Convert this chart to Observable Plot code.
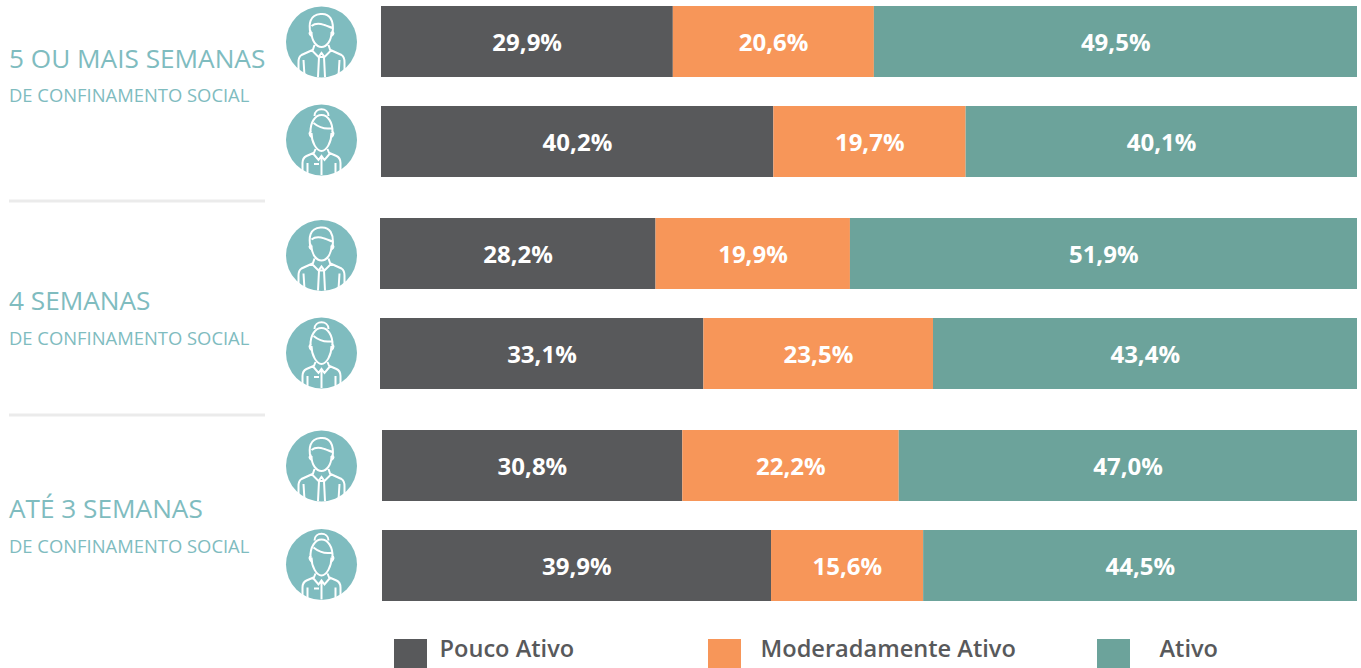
<!DOCTYPE html>
<html lang="pt">
<head>
<meta charset="utf-8">
<script src="https://cdn.jsdelivr.net/npm/d3@7"></script>
<script src="https://cdn.jsdelivr.net/npm/@observablehq/plot@0.6"></script>
<style>
  html, body { margin: 0; padding: 0; background: #fff; overflow: hidden; }
  #chart { width: 1361px; height: 668px; position: relative; font-family: "Open Sans", sans-serif; }
  #chart svg { display: block; }
  #legend { position: relative; height: 43px; color: #58595b; font-size: 23.6px; font-weight: 600; }
  #legend span { position: absolute; top: 14px; display: block; white-space: nowrap; }
  #legend .swatch { width: 33px; height: 29px; top: 14px; }
  #legend .name { top: 7px; line-height: 33px; }
</style>
</head>
<body>
<div id="chart"></div>
<script>
// ---- data ----
const groups = ["5 OU MAIS SEMANAS", "4 SEMANAS", "ATÉ 3 SEMANAS"];
const subtitle = "DE CONFINAMENTO SOCIAL";
const genders = ["Homens", "Mulheres"];
const categories = ["Pouco Ativo", "Moderadamente Ativo", "Ativo"];
const colors = ["#58595b", "#f79659", "#6ca39b"];
// one value per row: group 1 men, group 1 women, group 2 men, ...
const poucoAtivo = [29.9, 40.2, 28.2, 33.1, 30.8, 39.9];
const moderadamenteAtivo = [20.6, 19.7, 19.9, 23.5, 22.2, 15.6];
const ativo = [49.5, 40.1, 51.9, 43.4, 47.0, 44.5];

// ---- layout constants ----
const H = 625, marginT = 6, rowBlock = 171, groupStep = 212, rowStep = 100;
const X0 = 380, X1 = 1357;
const pct = px => (px - X0) / (X1 - X0) * 100;       // page pixel -> x-scale unit
const groupLead = [pct(381), pct(380), pct(382)];    // each group's bars start slightly differently
const iconCol = -59, labelCol = -371.5;
const teal = "#7fbcbf";
const iconNudge = [0, -2, 1.5, -1, 0, -1.5];
const titleDy = [53, 83, 79], subDy = [90, 121, 117];
const ruleDy = [59, 61];

// ---- table built from the arrays ----
const rows = [];
const segments = [];
groups.forEach((group, g) => genders.forEach((gender, s) => {
  const i = g * 2 + s;
  rows.push({group, gender, i});
  const lead = groupLead[g];
  const scale = (100 - lead) / 100;
  let cum = 0;
  [poucoAtivo[i], moderadamenteAtivo[i], ativo[i]].forEach((value, c) => {
    const start = lead + cum * scale;
    const end = lead + (cum + value) * scale;
    segments.push({group, gender, category: categories[c], value, start, end, mid: (start + end) / 2});
    cum += value;
  });
}));
const fmt = v => v.toFixed(1).replace(".", ",") + "%";

// ---- icon glyphs (custom dot symbols, centred on the dot) ----
function curveList(ctx, list) {
  for (const c of list) {
    if (c[0] === "M") ctx.moveTo(c[1], c[2]);
    else if (c[0] === "L") ctx.lineTo(c[1], c[2]);
    else if (c[0] === "Q") ctx.quadraticCurveTo(c[1], c[2], c[3], c[4]);
    else ctx.bezierCurveTo(c[1], c[2], c[3], c[4], c[5], c[6]);
  }
}
const man = {draw(ctx) {
  curveList(ctx, [
    ["M",-11,-8],["C",-13,-18,-12,-27,-1,-28],["C",8,-29,13,-22,11,-8],
    ["M",-10,-16],["C",-5,-20,0,-18,3,-17],["C",6,-16,8,-15,11,-14],
    ["M",-10,-10],["C",-10,-1,-5,5,0,5],["C",5,5,10,-1,10,-10],
    ["M",-10,-11],["Q",-14,-9,-10,-6],["M",10,-11],["Q",14,-9,10,-6],
    ["M",-7,3],["L",-9,9],["L",-3,15],["L",0,11],["L",3,15],["L",9,9],["L",7,3],
    ["M",-9,8],["L",-20,13],["Q",-23,15,-23,20],["L",-23,30],
    ["M",9,8],["L",20,13],["Q",23,15,23,20],["L",23,30],
    ["M",-18,18],["L",-17,34],["M",18,18],["L",17,34],
    ["M",-2.5,15],["L",-3.5,35],["M",2.5,15],["L",3.5,35],["M",-3,15],["L",3,15]
  ]);
}};
const woman = {draw(ctx) {
  curveList(ctx, [
    ["M",-7,-24],["C",-7,-33,7,-33,7,-24],
    ["M",-11,-7],["C",-11.5,-18,-6,-25,0,-25],["C",6,-25,11.5,-18,11,-7],
    ["M",-8,-17],["C",-3,-13,3,-10,11,-12],
    ["M",-10,-7],["C",-10,2,-5,11,0,11],["C",5,11,10,2,10,-7],
    ["M",-10,-9],["Q",-14,-7,-10,-3],["M",10,-9],["Q",14,-7,10,-3],
    ["M",-6,9],["L",-8,14],["L",-3,20],["L",0,16],["L",3,20],["L",8,14],["L",6,9],
    ["M",-8,13],["L",-15,16],["Q",-19,18,-19,23],["L",-19,32],
    ["M",8,13],["L",15,16],["Q",19,18,19,23],["L",19,32],
    ["M",-14,23],["L",-14,34],["M",14,23],["L",14,34],
    ["M",0,17],["L",0,35],["M",-7.5,24],["L",-2.5,24]
  ]);
}};
const glyph = {Homens: man, Mulheres: woman};

// ---- chart ----
const gap = groupStep - rowBlock;
const chart = Plot.plot({
  width: 1361,
  height: H,
  marginLeft: X0,
  marginRight: 1361 - X1,
  marginTop: marginT,
  marginBottom: H - (marginT + 3 * rowBlock + 2 * gap),
  style: {fontFamily: '"Open Sans", sans-serif', background: "#fff", overflow: "visible"},
  x: {domain: [0, 100], axis: null},
  y: {domain: genders, axis: null, paddingInner: 1 - 71 / rowStep, paddingOuter: 0, round: false},
  fy: {domain: groups, axis: null, paddingInner: gap / groupStep, paddingOuter: 0, round: false},
  color: {domain: categories, range: colors},
  marks: [
    Plot.barX(segments, {x1: "start", x2: "end", y: "gender", fy: "group", fill: "category", inset: 0}),
    Plot.text(segments, {x: "mid", y: "gender", fy: "group", text: d => fmt(d.value), fill: "#fff",
      fontSize: 24, fontWeight: 700, dy: 1, dx: -0.25}),
    ...rows.flatMap(r => [
      Plot.dot([r], {y: "gender", fy: "group", frameAnchor: "left", dx: iconCol, dy: iconNudge[r.i],
        r: 35.5, fill: teal, stroke: null}),
      Plot.dot([r], {y: "gender", fy: "group", frameAnchor: "left", dx: iconCol, dy: iconNudge[r.i],
        r: 35.5, symbol: glyph[r.gender], fill: "none", stroke: "#fff", strokeWidth: 2})
    ]),
    ...groups.flatMap((g, i) => [
      Plot.text([g], {fy: d => d, text: d => d, frameAnchor: "top-left", dx: labelCol, dy: titleDy[i],
        fontSize: 26.2, fontWeight: 400, fill: teal, lineAnchor: "middle"}),
      Plot.text([g], {fy: d => d, text: () => subtitle, frameAnchor: "top-left", dx: labelCol, dy: subDy[i],
        fontSize: 18.4, fontWeight: 400, fill: teal, lineAnchor: "middle"})
    ]),
    ...groups.slice(0, 2).map((group, i) => Plot.ruleY([{group}], {
      y: () => genders[1], fy: "group", x1: pct(9), x2: pct(265), dy: ruleDy[i], stroke: "#ebebeb", strokeWidth: 3
    }))
  ]
});
const root = document.getElementById("chart");
root.appendChild(chart);

// ---- legend below the SVG ----
const legend = document.createElement("div");
legend.id = "legend";
const swatchLeft = [394, 708, 1097], nameLeft = [439.5, 760.5, 1159.5];
categories.forEach((c, i) => {
  const s = document.createElement("span");
  s.className = "swatch"; s.style.left = swatchLeft[i] + "px"; s.style.background = colors[i];
  const n = document.createElement("span");
  n.className = "name"; n.style.left = nameLeft[i] + "px"; n.textContent = c;
  legend.append(s, n);
});
root.appendChild(legend);
</script>
</body>
</html>
